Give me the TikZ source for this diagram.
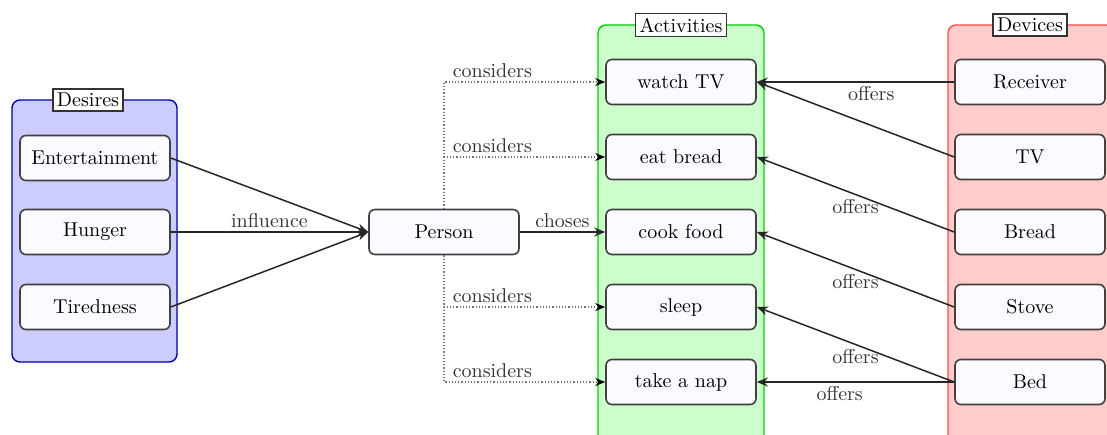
\documentclass[tikz,border=0pt]{standalone}
\usetikzlibrary{arrows.meta}
\begin{document}
\begin{tikzpicture}[x=0.5pt,y=-0.5pt,
  item/.style={draw=black!75, fill=blue!2, rounded corners=3pt, line width=0.8pt, minimum width=75pt, minimum height=22.5pt, inner sep=2pt},
  grp/.style={rounded corners=4pt, line width=0.7pt, inner sep=0pt},
  grplabel/.style={draw=black!80, fill=white, line width=0.7pt, inner sep=2pt, minimum height=11pt},
  arr/.style={-{Stealth[length=5.5pt,width=4.5pt]}, line width=0.75pt, black!85},
  dotarr/.style={-{Stealth[length=5pt,width=4pt,black]}, densely dotted, black!55, semithick},
  lbl/.style={text=black!80, inner sep=2pt}]
\useasboundingbox (0,0) rectangle (1107,434);
\clip (0,0) rectangle (1107,434);
% groups
\node[grp, draw=blue!70!black, fill=blue!20, minimum width=82.5pt, minimum height=131pt] (desbox) at (94.5,231) {};
\node[grp, draw=green!80!black, fill=green!20, minimum width=83pt, minimum height=230pt] (actbox) at (681,255) {};
\node[grp, draw=red!70, fill=red!20, minimum width=83pt, minimum height=230pt] (devbox) at (1031,255) {};
\node[grplabel] (deslbl) at (88,100) {Desires};
\node[grplabel] (actlbl) at (681,25) {Activities};
\node[grplabel] (devlbl) at (1030,25) {Devices};
% desires
\node[item] (ent) at (95,158) {Entertainment};
\node[item] (hun) at (95,232) {Hunger};
\node[item] (tir) at (95,307) {Tiredness};
% person
\node[item] (person) at (444,232) {Person};
% activities
\node[item] (watch) at (681,82) {watch TV};
\node[item] (eat) at (681,157) {eat bread};
\node[item] (cook) at (681,232) {cook food};
\node[item] (sleep) at (681,307) {sleep};
\node[item] (nap) at (681,382) {take a nap};
% devices
\node[item] (recv) at (1030,82) {Receiver};
\node[item] (tv) at (1030,157) {TV};
\node[item] (bread) at (1030,232) {Bread};
\node[item] (stove) at (1030,307) {Stove};
\node[item] (bed) at (1030,382) {Bed};
% edges
\draw[arr] (ent.east) -- (person.west);
\draw[arr] (hun.east) -- node[lbl, above] {influence} (person.west);
\draw[arr] (tir.east) -- (person.west);
\draw[arr] (person.east) -- node[lbl, above] {choses} (cook.west);
\draw[dotarr] (person.north) |- node[lbl, pos=0.65, above] {considers} (watch.west);
\draw[dotarr] (person.north) |- node[lbl, pos=0.65, above] {considers} (eat.west);
\draw[dotarr] (person.south) |- node[lbl, pos=0.65, above] {considers} (sleep.west);
\draw[dotarr] (person.south) |- node[lbl, pos=0.65, above] {considers} (nap.west);
\draw[arr] (recv.west) -- node[lbl, below, pos=0.42] {offers} (watch.east);
\draw[arr] (tv.west) -- (watch.east);
\draw[arr] (bread.west) -- node[lbl, below] {offers} (eat.east);
\draw[arr] (stove.west) -- node[lbl, below] {offers} (cook.east);
\draw[arr] (bed.west) -- node[lbl, below] {offers} (sleep.east);
\draw[arr] (bed.west) -- node[lbl, below, pos=0.58] {offers} (nap.east);
\end{tikzpicture}
\end{document}
